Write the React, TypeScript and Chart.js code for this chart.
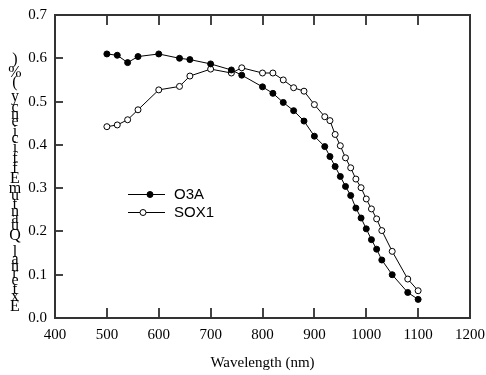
import React, { useEffect, useRef } from "react";
import { Chart, registerables } from "chart.js";

Chart.register(...registerables);

const wavelengths = [500, 520, 540, 560, 600, 640, 660, 700, 740, 760, 800, 820, 840, 860, 880, 900, 920, 930, 940, 950, 960, 970, 980, 990, 1000, 1010, 1020, 1030, 1050, 1080, 1100];
const o3aValues = [0.61, 0.607, 0.59, 0.604, 0.61, 0.6, 0.597, 0.587, 0.573, 0.561, 0.534, 0.519, 0.498, 0.479, 0.455, 0.42, 0.396, 0.373, 0.35, 0.327, 0.304, 0.283, 0.254, 0.231, 0.206, 0.181, 0.159, 0.134, 0.1, 0.059, 0.043];
const sox1Values = [0.442, 0.446, 0.458, 0.481, 0.527, 0.535, 0.559, 0.575, 0.566, 0.578, 0.566, 0.566, 0.55, 0.532, 0.524, 0.493, 0.465, 0.456, 0.424, 0.398, 0.37, 0.347, 0.321, 0.301, 0.275, 0.252, 0.229, 0.202, 0.154, 0.09, 0.063];
const seriesNames = ["O3A", "SOX1"];
const xTicks = [400, 500, 600, 700, 800, 900, 1000, 1100, 1200];
const yTicks = [0, 0.1, 0.2, 0.3, 0.4, 0.5, 0.6, 0.7];
const xTitle = "Wavelength (nm)";
const yTitle = "External Quantum Efficiency (%)";

const SERIF = "'Liberation Serif', 'Times New Roman', serif";
const SANS = "'Liberation Sans', Arial, sans-serif";

const framePlugin = {
  id: "frame",
  afterDraw(chart: any) {
    const { ctx, chartArea } = chart;
    const { left, right, top, bottom } = chartArea;
    const xs = chart.scales.x;
    const ys = chart.scales.y;
    ctx.save();
    // inward ticks
    ctx.fillStyle = "#444";
    for (let i = 1; i < xTicks.length - 1; i++) {
      const px = Math.round(xs.getPixelForValue(xTicks[i]));
      ctx.fillRect(px - 1, bottom - 10, 2, 10);
      ctx.fillRect(px - 1, top, 2, 10);
    }
    for (let i = 1; i < yTicks.length - 1; i++) {
      const py = Math.round(ys.getPixelForValue(yTicks[i]));
      ctx.fillRect(left, py - 1, 8, 2);
    }
    // frame
    ctx.strokeStyle = "#333";
    ctx.lineWidth = 2;
    ctx.strokeRect(left, top, right - left, bottom - top);

    // legend
    const items = [
      { name: seriesNames[0], y: 194, mx: 150, filled: true },
      { name: seriesNames[1], y: 212, mx: 143, filled: false },
    ];
    items.forEach((it) => {
      ctx.strokeStyle = "#000";
      ctx.lineWidth = 1;
      ctx.beginPath();
      ctx.moveTo(128, it.y + 0.5);
      ctx.lineTo(165, it.y + 0.5);
      ctx.stroke();
      ctx.beginPath();
      ctx.arc(it.mx, it.y + 0.5, 3, 0, Math.PI * 2);
      ctx.fillStyle = it.filled ? "#000" : "#fff";
      ctx.fill();
      ctx.stroke();
      ctx.fillStyle = "#000";
      ctx.font = "15px " + SANS;
      ctx.textAlign = "left";
      ctx.textBaseline = "middle";
      ctx.fillText(it.name, 174, it.y + 1);
    });

    // stacked upright y title: each glyph advances by its own height
    ctx.font = "16px " + SERIF;
    ctx.textAlign = "center";
    ctx.textBaseline = "alphabetic";
    ctx.fillStyle = "#000";
    const chars = Array.from(yTitle);
    const boxes = chars.map((c) => {
      if (c === " ") return { asc: 2, desc: 2 };
      const m = ctx.measureText(c);
      return { asc: m.actualBoundingBoxAscent, desc: m.actualBoundingBoxDescent };
    });
    const centers: number[] = [];
    let acc = 0;
    boxes.forEach((b, i) => {
      const h = b.asc + b.desc;
      if (i > 0) acc += 0.5;
      centers.push(acc + h / 2);
      acc += h;
    });
    const firstC = 305;
    const lastC = 60;
    const k = (firstC - lastC) / (centers[centers.length - 1] - centers[0]);
    chars.forEach((c, i) => {
      if (c === " ") return;
      const cy = firstC - (centers[i] - centers[0]) * k;
      const b = boxes[i];
      ctx.fillText(c, 15, cy + (b.asc - b.desc) / 2);
    });

    // x title
    ctx.font = "15px " + SERIF;
    ctx.textAlign = "center";
    ctx.textBaseline = "middle";
    ctx.fillText(xTitle, (left + right) / 2, 363);
    ctx.restore();
  },
};

export default function App() {
  const ref = useRef<HTMLCanvasElement>(null);
  useEffect(() => {
    document.body.style.margin = "0";
    const canvas = ref.current!;
    const toPts = (vals: number[]) => wavelengths.map((x, i) => ({ x, y: vals[i] }));
    const chart = new Chart(canvas, {
      type: "line",
      data: {
        datasets: [
          {
            label: seriesNames[0],
            data: toPts(o3aValues),
            borderColor: "#000",
            borderWidth: 1,
            backgroundColor: "#000",
            pointRadius: 3,
            pointBorderWidth: 1,
            pointBackgroundColor: "#000",
            pointBorderColor: "#000",
            tension: 0,
          },
          {
            label: seriesNames[1],
            data: toPts(sox1Values),
            borderColor: "#000",
            borderWidth: 1,
            backgroundColor: "#fff",
            pointRadius: 3,
            pointBorderWidth: 1,
            pointBackgroundColor: "#fff",
            pointBorderColor: "#000",
            tension: 0,
          },
        ],
      },
      options: {
        animation: false,
        responsive: false,
        devicePixelRatio: 1,
        layout: { padding: { top: 15, right: 16, left: 0, bottom: 0 } },
        plugins: { legend: { display: false }, tooltip: { enabled: false } },
        scales: {
          x: {
            type: "linear",
            min: 400,
            max: 1200,
            afterFit: (s: any) => {
              s.height = 57;
              s.paddingLeft = 0;
              s.paddingRight = 0;
            },
            afterBuildTicks: (s: any) => {
              s.ticks = xTicks.map((v) => ({ value: v }));
            },
            grid: { display: false, drawTicks: false },
            border: { display: false },
            ticks: {
              color: "#000",
              font: { family: SERIF, size: 15 },
              padding: 8,
              maxRotation: 0,
              autoSkip: false,
              callback: (v: any) => String(v),
            },
          },
          y: {
            type: "linear",
            min: 0,
            max: 0.7,
            afterFit: (s: any) => {
              s.width = 55;
              s.paddingTop = 0;
              s.paddingBottom = 0;
            },
            afterBuildTicks: (s: any) => {
              s.ticks = yTicks.map((v) => ({ value: v }));
            },
            grid: { display: false, drawTicks: false },
            border: { display: false },
            ticks: {
              color: "#000",
              font: { family: SERIF, size: 15 },
              padding: 8,
              autoSkip: false,
              callback: (v: any) => Number(v).toFixed(1),
            },
          },
        },
      },
      plugins: [framePlugin],
    });
    return () => chart.destroy();
  }, []);
  return (
    <div style={{ width: 486, height: 375, background: "#fff" }}>
      <canvas ref={ref} width={486} height={375} style={{ display: "block" }} />
    </div>
  );
}
